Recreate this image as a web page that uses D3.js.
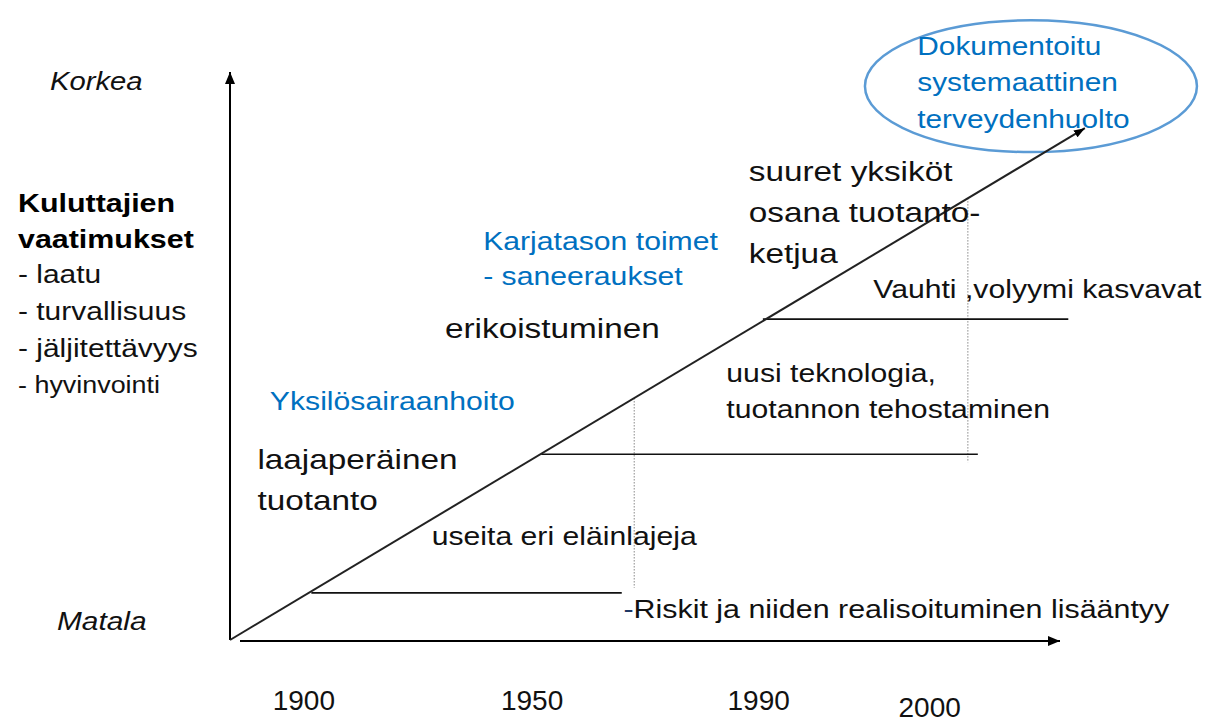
<!DOCTYPE html>
<meta charset="utf-8">
<head>
    <title>Kuluttajien vaatimukset</title>
</head>
<style>
    body { margin: 0; background: #fff; }
    text { font-family: "Liberation Sans", Arial, sans-serif; fill: #111; }
</style>
<div id="chart"></div>
<script src="https://d3js.org/d3.v7.min.js"></script>
<script>

    // progress (0..100) along x, level (Matala 0 .. Korkea 100) along y
    var trendStart = [0, 0],
        trendEnd = [103, 90.1];

    var stageLevel = [8.3, 32.7, 56.5],
        stageFrom = [9.8, 37.5, 64.2],
        stageTo = [47.2, 90.1, 101.0];

    var guideX = [48.7, 88.9],
        guideTop = [42.6, 77.8],
        guideBottom = [9.2, 31.3];

    var years = ["1900", "1950", "1990", "2000"],
        yearAt = [8.9, 36.4, 63.7, 84.3];

    var demandTitle = ["Kuluttajien", "vaatimukset"],
        demandItems = ["- laatu", "- turvallisuus", "- jäljitettävyys", "- hyvinvointi"];

    var notes = [
        {lines: ["Yksilösairaanhoito"], at: [4.8, 40.5], kind: "blue"},
        {lines: ["laajaperäinen", "tuotanto"], at: [3.3, 30.1], kind: "big"},
        {lines: ["useita eri eläinlajeja"], at: [24.3, 16.7], kind: "plain"},
        {lines: ["erikoistuminen"], at: [25.9, 53.2], kind: "big"},
        {lines: ["Karjatason toimet", "- saneeraukset"], at: [30.5, 68.7], kind: "blue"},
        {lines: ["uusi teknologia,", "tuotannon tehostaminen"], at: [59.8, 45.4], kind: "plain"},
        {lines: ["suuret yksiköt", "osana tuotanto-", "ketjua"], at: [62.5, 80.8], kind: "big"},
        {lines: ["Vauhti ,volyymi kasvavat"], at: [77.5, 60.2], kind: "plain"}
    ];

    var riskText = "Riskit ja niiden realisoituminen lisääntyy",
        riskAt = [47.4, 3.9];

    var goalLines = ["Dokumentoitu", "systemaattinen", "terveydenhuolto"],
        goalCenter = [96.5, 97.5],
        goalRadius = [20, 11.6],
        goalTextAt = [82.8, 103.0];

    var width = 1223, height = 720;
    var stretch = 1.17;

    var svg = d3.select("#chart")
      .append("svg")
        .attr("width", width)
        .attr("height", height);

    var x = d3.scaleLinear().domain([0, 100]).range([230, 1060]);
    var y = d3.scaleLinear().domain([0, 100]).range([640, 72]);

    var defs = svg.append("defs");
    function arrowMarker(id, len, half) {
        defs.append("marker")
            .attr("id", id)
            .attr("markerUnits", "userSpaceOnUse")
            .attr("viewBox", "0 " + (-half) + " " + len + " " + (2 * half))
            .attr("refX", len)
            .attr("refY", 0)
            .attr("markerWidth", len)
            .attr("markerHeight", 2 * half)
            .attr("orient", "auto")
          .append("path")
            .attr("d", "M0," + (-half) + "L" + len + ",0L0," + half + "Z")
            .attr("fill", "#000");
    }
    arrowMarker("axisHead", 12, 5);
    arrowMarker("trendHead", 11, 4);

    // axes
    svg.append("line")
        .attr("x1", x(0)).attr("y1", y(0))
        .attr("x2", x(0)).attr("y2", y(100))
        .attr("stroke", "#000").attr("stroke-width", 2)
        .attr("marker-end", "url(#axisHead)");
    svg.append("line")
        .attr("x1", x(0) + 10).attr("y1", y(0) + 1)
        .attr("x2", x(100)).attr("y2", y(0) + 1)
        .attr("stroke", "#000").attr("stroke-width", 2)
        .attr("marker-end", "url(#axisHead)");

    // dotted guides
    svg.selectAll(".guide")
      .data(guideX)
      .enter().append("line")
        .attr("class", "guide")
        .attr("x1", function(d) { return x(d); })
        .attr("x2", function(d) { return x(d); })
        .attr("y1", function(d, i) { return y(guideTop[i]); })
        .attr("y2", function(d, i) { return y(guideBottom[i]); })
        .attr("stroke", "#888")
        .attr("stroke-width", 1)
        .attr("stroke-dasharray", "1.5,1.5");

    // stage lines
    svg.selectAll(".stage")
      .data(stageLevel)
      .enter().append("line")
        .attr("class", "stage")
        .attr("x1", function(d, i) { return x(stageFrom[i]); })
        .attr("x2", function(d, i) { return x(stageTo[i]); })
        .attr("y1", function(d) { return y(d); })
        .attr("y2", function(d) { return y(d); })
        .attr("stroke", "#111")
        .attr("stroke-width", 1.6);

    // goal ellipse
    svg.append("ellipse")
        .attr("cx", x(goalCenter[0]))
        .attr("cy", y(goalCenter[1]))
        .attr("rx", x(goalRadius[0]) - x(0))
        .attr("ry", y(0) - y(goalRadius[1]))
        .attr("fill", "none")
        .attr("stroke", "#5b9bd5")
        .attr("stroke-width", 2.5);

    // trend line
    svg.append("line")
        .attr("x1", x(trendStart[0])).attr("y1", y(trendStart[1]))
        .attr("x2", x(trendEnd[0])).attr("y2", y(trendEnd[1]))
        .attr("stroke", "#222")
        .attr("stroke-width", 2)
        .attr("marker-end", "url(#trendHead)");

    function block(px, py, lines, size, lead, color, extra) {
        var t = svg.append("text")
            .attr("transform", "translate(" + px + "," + py + ") scale(" + stretch + ",1)")
            .style("font-size", size + "px")
            .style("fill", color);
        if (extra) extra(t);
        t.selectAll("tspan")
          .data(lines)
          .enter().append("tspan")
            .attr("x", 0)
            .attr("dy", function(d, i) { return i === 0 ? 0 : lead; })
            .text(function(d) { return d; });
        return t;
    }

    var kinds = {
        big: {size: 28.5, lead: 41, color: "#111"},
        plain: {size: 25.8, lead: 35.5, color: "#111"},
        blue: {size: 25.8, lead: 35.5, color: "#0070c0"}
    };

    notes.forEach(function(n) {
        var k = kinds[n.kind];
        block(x(n.at[0]), y(n.at[1]), n.lines, k.size, k.lead, k.color);
    });

    block(x(goalTextAt[0]), y(goalTextAt[1]), goalLines, 25.5, 36.5, "#0070c0");

    var risk = svg.append("text")
        .attr("transform", "translate(" + x(riskAt[0]) + "," + y(riskAt[1]) + ") scale(" + stretch + ",1)")
        .style("font-size", "26px");
    risk.append("tspan").style("fill", "#1f3864").text("-");
    risk.append("tspan").text(riskText);

    // left side labels
    block(50, y(96.8), ["Korkea"], 25, 0, "#111", function(t) { t.style("font-style", "italic"); });
    block(57, y(1.8), ["Matala"], 25.5, 0, "#111", function(t) { t.style("font-style", "italic"); });
    block(18, 212, demandTitle, 26, 36, "#000", function(t) { t.style("font-weight", "bold"); });
    block(18, 283, demandItems.slice(0, 3), 25.6, 37, "#111");
    block(18, 393, demandItems.slice(3), 23, 0, "#111");

    // year labels
    svg.selectAll(".year")
      .data(years)
      .enter().append("text")
        .attr("class", "year")
        .attr("x", function(d, i) { return x(yearAt[i]); })
        .attr("y", function(d) { return d === "2000" ? 717 : 710; })
        .attr("text-anchor", "middle")
        .style("font-size", "28px")
        .text(function(d) { return d; });
</script>
